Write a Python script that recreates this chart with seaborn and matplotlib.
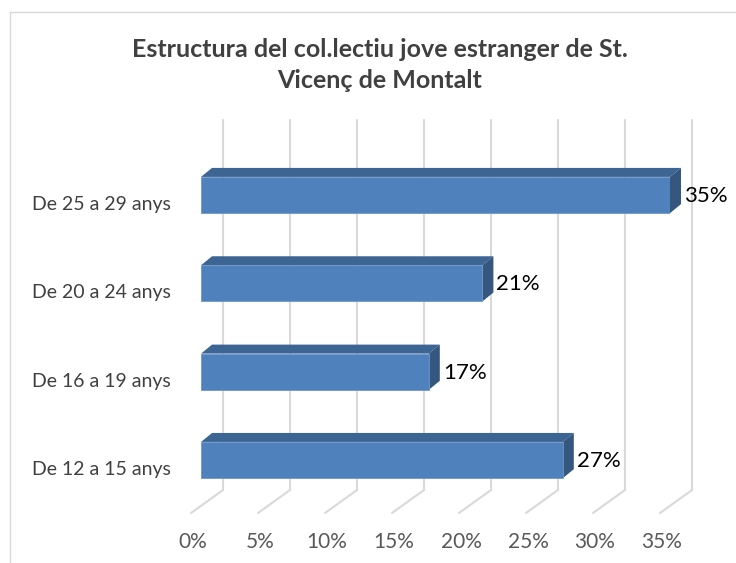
import numpy as np
import pandas as pd
import matplotlib
matplotlib.use("Agg")
import matplotlib.pyplot as plt
import seaborn as sns
from matplotlib.transforms import offset_copy, IdentityTransform
from matplotlib.patches import Polygon
from matplotlib.lines import Line2D

# ---- data ----
categories = ["De 25 a 29 anys", "De 20 a 24 anys", "De 16 a 19 anys", "De 12 a 15 anys"]
values = [35, 21, 17, 27]
xticks = [0, 5, 10, 15, 20, 25, 30, 35]
xtick_labels = ["0%", "5%", "10%", "15%", "20%", "25%", "30%", "35%"]
title = "Estructura del col.lectiu jove estranger de St.\nVicenç de Montalt"

W, H = 736, 563
sns.set_style("white")
plt.rcParams['font.family'] = ['Lato', 'DejaVu Sans']

fig = plt.figure(figsize=(W / 100, H / 100), dpi=100)

# chart border
fig.add_artist(Line2D([10 / W, 10 / W], [0, 1 - 12 / H], transform=fig.transFigure, color="#d9d9d9", lw=1))
fig.add_artist(Line2D([10 / W, 1], [1 - 12 / H, 1 - 12 / H], transform=fig.transFigure, color="#d9d9d9", lw=1))

ax = fig.add_axes([201 / W, 1 - 506 / H, (670 - 201) / W, (506 - 136) / H])
df = pd.DataFrame({"cat": categories, "val": values})
sns.barplot(data=df, x="val", y="cat", orient="h", color="#4f81bd", saturation=1,
            width=0.41, ax=ax, zorder=3, edgecolor="#6f97c9", linewidth=0.6)
ybot, ytop = 3.52, -0.668
ax.set_xlim(0, 35)
ax.set_ylim(ybot, ytop)
for s in ax.spines.values():
    s.set_visible(False)
ax.set_xlabel("")
ax.set_ylabel("")
ax.tick_params(length=0)

# back wall gridlines and floor lines
grid_c = "#d9d9d9"
back = offset_copy(ax.transData, fig=fig, x=22, y=16, units='dots')
for v in xticks:
    ax.plot([v, v], [ybot, ytop], transform=back, color=grid_c, lw=1.5, clip_on=False, zorder=1)
    px, py = ax.transData.transform((v, ybot))
    ax.add_line(Line2D([px + 22, px - 10], [py + 16, py - 7], transform=IdentityTransform(),
                       color=grid_c, lw=1.5, clip_on=False, zorder=1))

# 3D faces of bars
dx, dy = 11, 9
for p in list(ax.patches):
    x0, y0, w, h = p.get_x(), p.get_y(), p.get_width(), p.get_height()
    (lx, b1), (rx, b2) = ax.transData.transform([(x0, y0), (x0 + w, y0 + h)])
    top, bot = max(b1, b2), min(b1, b2)
    ax.add_patch(Polygon([(lx, top), (rx, top), (rx + dx, top + dy), (lx + dx, top + dy)],
                         closed=True, transform=IdentityTransform(), facecolor="#3d6594",
                         edgecolor="none", zorder=2, clip_on=False))
    ax.add_patch(Polygon([(rx, top), (rx, bot), (rx + dx, bot + dy), (rx + dx, top + dy)],
                         closed=True, transform=IdentityTransform(), facecolor="#34567f",
                         edgecolor="none", zorder=2, clip_on=False))

# ticks
ax.set_xticks(xticks)
ax.set_xticklabels(xtick_labels, fontsize=15, color="#595959")
ax.tick_params(axis="x", pad=19)
for lab in ax.get_xticklabels():
    lab.set_transform(offset_copy(lab.get_transform(), fig=fig, x=-8, y=0, units='dots'))
ax.set_yticks(range(len(categories)))
ax.set_yticklabels(categories, fontsize=14, color="#404040")
ax.tick_params(axis="y", pad=22)
for lab in ax.get_yticklabels():
    lab.set_transform(offset_copy(lab.get_transform(), fig=fig, x=0, y=-8, units='dots'))

# data labels
lab_tr = offset_copy(ax.transData, fig=fig, x=14, y=-1, units='dots')
for i, v in enumerate(values):
    ax.text(v, i, f"{v}%", transform=lab_tr, ha="left", va="center", fontsize=16, color="black")

fig.text(380 / W, 1 - 65 / H, title, ha="center", va="center", fontsize=18,
         fontweight="bold", color="#404040", linespacing=1.4)

fig.savefig("out.png", dpi=100)
